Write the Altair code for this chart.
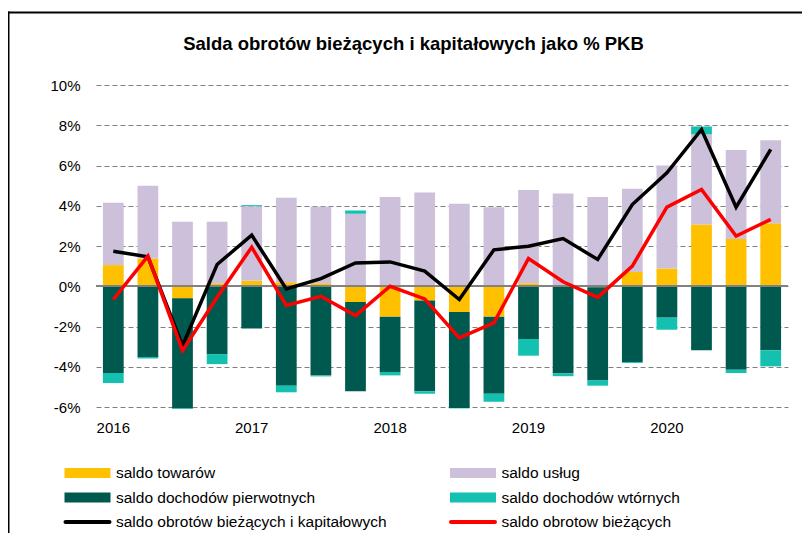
import altair as alt
import pandas as pd

quarters = [f"{y}-{q}" for y in range(2016, 2021) for q in range(1, 5)]

series_names = ["saldo towarów", "saldo usług", "saldo dochodów pierwotnych", "saldo dochodów wtórnych"]
series_colors = ["#FFC000", "#CCC0DA", "#00594F", "#14C0B0"]

towary = [1.05, 1.38, -0.60, 0.15, 0.27, 0.20, 0.15, -0.78, -1.51, -0.71,
          -1.28, -1.51, 0.15, 0.05, -0.05, 0.71, 0.88, 3.07, 2.35, 3.13]
uslugi = [3.10, 3.62, 3.20, 3.05, 3.71, 4.20, 3.80, 3.60, 4.44, 4.66,
          4.10, 3.93, 4.63, 4.56, 4.44, 4.13, 5.12, 4.48, 4.42, 4.13]
pierwotne = [-4.31, -3.52, -5.47, -3.37, -2.10, -4.94, -4.44, -4.44, -2.75, -4.51,
             -4.77, -3.83, -2.62, -4.34, -4.63, -3.76, -1.56, -3.18, -4.15, -3.18]
wtorne = [-0.50, -0.07, -0.03, -0.50, 0.05, -0.33, -0.04, 0.17, -0.17, -0.12,
          -0.02, -0.40, -0.83, -0.13, -0.26, -0.05, -0.60, 0.39, -0.16, -0.80]

biezace_kapitalowe = [1.74, 1.46, -2.95, 1.08, 2.54, -0.13, 0.38, 1.16, 1.21, 0.75,
                      -0.66, 1.81, 1.99, 2.37, 1.33, 4.06, 5.64, 7.79, 3.93, 6.80]
biezace = [-0.66, 1.50, -3.20, -0.55, 1.94, -0.95, -0.50, -1.46, 0.00, -0.63,
           -2.57, -1.82, 1.38, 0.22, -0.55, 1.00, 3.93, 4.81, 2.49, 3.32]

y_ticks = [-6, -4, -2, 0, 2, 4, 6, 8, 10]

legend_labels = ["saldo towarów", "saldo usług", "saldo dochodów pierwotnych",
                 "saldo dochodów wtórnych", "saldo obrotów bieżących i kapitałowych",
                 "saldo obrotow bieżących"]
legend_cols = [0, 1, 0, 1, 0, 1]
legend_rows = [0, 0, 1, 1, 2, 2]
line_names = ["saldo obrotów bieżących i kapitałowych", "saldo obrotow bieżących"]
line_colors = ["#000000", "#FF0000"]

title_text = "Salda obrotów bieżących i kapitałowych jako % PKB"

FONT = "Liberation Sans, Arial, sans-serif"

# ---- data tables
rows = []
for i, q in enumerate(quarters):
    for k, (name, vals) in enumerate(zip(series_names, [towary, uslugi, pierwotne, wtorne])):
        rows.append({"q": q, "series": name, "value": vals[i], "ord": k})
bars_df = pd.DataFrame(rows)
lines_df = pd.DataFrame({"q": quarters, "bk": biezace_kapitalowe, "b": biezace})
leg_df = pd.DataFrame({"label": legend_labels, "col": legend_cols, "row": legend_rows,
                       "kind": ["rect"] * 4 + ["line"] * 2})

W, H = 692, 322

xenc = alt.X("q:N", sort=quarters,
             scale=alt.Scale(paddingInner=0.4, paddingOuter=0.2),
             axis=alt.Axis(title=None, labelAngle=0, ticks=False, domain=False, grid=False,
                           labelPadding=13, labelFontSize=15, labelFont=FONT, labelColor="#000",
                           labelExpr="slice(datum.value, 5) == '1' ? slice(datum.value, 0, 4) : ''"))
yscale = alt.Scale(domain=[-6, 10], nice=False, zero=False)
yaxis = alt.Axis(title=None, values=y_ticks, labelExpr="datum.value + '%'",
                 grid=True, gridDash=[5, 3], gridColor="#808080", gridWidth=1,
                 domain=False, ticks=False, labelPadding=16, labelFontSize=15,
                 labelFont=FONT, labelColor="#000")

bars = alt.Chart(bars_df).mark_bar().encode(
    x=xenc,
    y=alt.Y("value:Q", stack="zero", scale=yscale, axis=yaxis),
    color=alt.Color("series:N", scale=alt.Scale(domain=series_names, range=series_colors), legend=None),
    order=alt.Order("ord:Q"),
)

zero = alt.Chart(lines_df).mark_rule(color="#808080", strokeWidth=1).encode(y=alt.datum(0))

black = alt.Chart(lines_df).mark_line(color="#000000", strokeWidth=3.5).encode(
    x=alt.X("q:N", sort=quarters), y=alt.Y("bk:Q"))
red = alt.Chart(lines_df).mark_line(color="#FF0000", strokeWidth=3.5).encode(
    x=alt.X("q:N", sort=quarters), y=alt.Y("b:Q"))

main = alt.layer(bars, zero, black, red)

# ---- legend drawn from its own small table
lx = alt.X("col:Q", scale=alt.Scale(domain=[0, 1], range=[-8.5, 377]), axis=None)
ly = alt.Y("row:Q", scale=alt.Scale(domain=[0, 2], range=[388, 437]), axis=None)

leg_rect = alt.Chart(leg_df).transform_filter("datum.kind == 'rect'").mark_point(
    shape="M-1,-0.217H1V0.217H-1Z", size=2116, filled=True, opacity=1, strokeWidth=0
).encode(x=lx, y=ly,
         color=alt.Color("label:N", scale=alt.Scale(domain=series_names, range=series_colors), legend=None))

leg_line = alt.Chart(leg_df).transform_filter("datum.kind == 'line'").mark_point(
    shape="M-1,0H1", size=1936, filled=False, opacity=1, strokeWidth=4, strokeCap="round"
).encode(x=lx, y=ly,
         color=alt.Color("label:N", scale=alt.Scale(domain=line_names, range=line_colors), legend=None))

leg_text = alt.Chart(leg_df).mark_text(align="left", baseline="middle", dx=28.5,
                                        fontSize=15.5, font=FONT, color="#000").encode(
    x=lx, y=ly, text="label:N")

legend = alt.layer(leg_rect, leg_line, leg_text).resolve_scale(color="independent")

# ---- title and frame
title = alt.Chart(lines_df.head(1)).mark_text(
    text=title_text, fontSize=18.5, fontWeight="bold", font=FONT, align="center",
    baseline="alphabetic", color="#000"
).encode(x=alt.value(317.5), y=alt.value(-35))

frame_left = alt.Chart(lines_df.head(1)).mark_rule(color="#000", strokeWidth=2).encode(
    x=alt.value(-87.5), y=alt.value(-73.5), y2=alt.value(460))
frame_top = alt.Chart(lines_df.head(1)).mark_rule(color="#000", strokeWidth=2).encode(
    x=alt.value(-88.5), x2=alt.value(720), y=alt.value(-72.5))

chart = alt.layer(main, legend, title, frame_left, frame_top).resolve_scale(
    x="independent", y="independent", color="independent"
).properties(
    width=W, height=H,
    autosize=alt.AutoSizeParams(type="none"),
    padding={"left": 88, "top": 77, "right": 14, "bottom": 126},
).configure_view(stroke=None)

chart.save("out.html", embed_options={"renderer": "svg", "actions": False})
